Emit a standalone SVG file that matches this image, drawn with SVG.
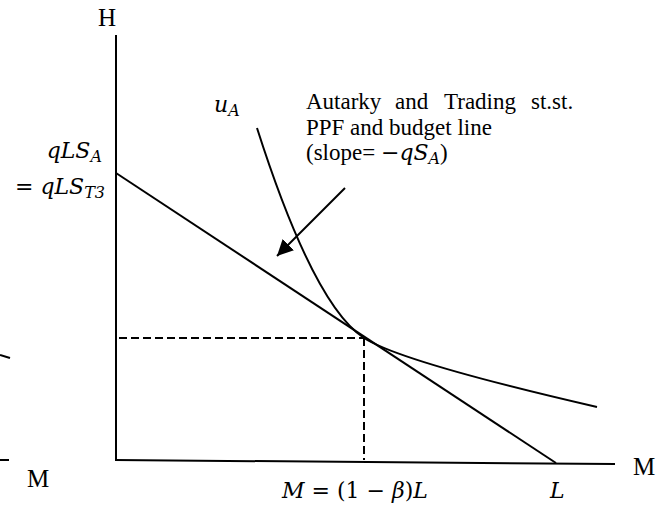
<svg xmlns="http://www.w3.org/2000/svg" width="664" height="516" viewBox="0 0 664 516">
<style>
.ln{fill:none;stroke:#000;stroke-width:2;stroke-linecap:butt}
.ds{fill:none;stroke:#000;stroke-width:2;stroke-dasharray:8 4}
.t{font-family:"Liberation Serif","Times New Roman",serif;font-size:23px;fill:#000}
.ax{font-family:"Liberation Serif","Times New Roman",serif;font-size:25px;fill:#000}
.m{font-family:"DejaVu Serif","Liberation Serif",serif;font-style:italic;font-size:22px;fill:#000}
.mu{font-family:"DejaVu Serif","Liberation Serif",serif;font-size:22px;fill:#000}
.s{font-size:16px}
</style>
<defs>
<marker id="ah" markerWidth="8" markerHeight="8" refX="8" refY="4" orient="auto" markerUnits="strokeWidth">
<path d="M0,0 L8,4 L0,8 Z" fill="#000"/>
</marker>
</defs>
<rect width="664" height="516" fill="#fff"/>
<g id="connectors">
<line id="y-axis" class="ln" x1="116" y1="35" x2="116" y2="461"/>
<line id="x-axis" class="ln" x1="115" y1="460" x2="615" y2="464"/>
<line id="ppf" class="ln" x1="116" y1="173" x2="556" y2="463"/>
<path id="u-curve" class="ln" d="M257,128 C280,200 320,309 364,338 C395,358 497,384 597,407"/>
<line class="ds" x1="119" y1="338" x2="364" y2="338"/>
<line class="ds" x1="364" y1="338" x2="364" y2="460"/>
<line class="ln" x1="345" y1="188" x2="277" y2="256" marker-end="url(#ah)"/>
<line class="ln" x1="0" y1="355" x2="10" y2="358"/>
<line class="ln" x1="0" y1="460" x2="9" y2="460"/>
</g>
<g id="label-H"><text class="ax" x="107" y="26" text-anchor="middle">H</text></g>
<g id="label-M-right"><text class="ax" x="633" y="475">M</text></g>
<g id="label-M-left"><text class="ax" x="27" y="487">M</text></g>
<g id="label-qLSA">
<text class="m" x="102" y="158" text-anchor="end">qLS<tspan class="s" dy="4">A</tspan></text>
<text x="105" y="194" text-anchor="end"><tspan class="mu">= </tspan><tspan class="m">qLS</tspan><tspan class="m s" dy="4">T3</tspan></text>
</g>
<g id="label-uA"><text class="m" x="214" y="112">u<tspan class="s" dy="4">A</tspan></text></g>
<g id="annotation">
<text class="t" y="109"><tspan x="306">Autarky</tspan><tspan x="395">and</tspan><tspan x="444">Trading</tspan><tspan x="531">st.st.</tspan></text>
<text class="t" x="306" y="135">PPF and budget line</text>
<text x="306" y="160"><tspan class="t">(slope= </tspan><tspan class="mu">−</tspan><tspan class="m">qS</tspan><tspan class="m s" dy="4">A</tspan><tspan class="t" dy="-4">)</tspan></text>
</g>
<g id="label-Mval"><text x="282" y="498"><tspan class="m">M</tspan><tspan class="mu"> = (1 − </tspan><tspan class="m">β</tspan><tspan class="mu">)</tspan><tspan class="m">L</tspan></text></g>
<g id="label-L"><text class="m" x="550" y="498">L</text></g>
</svg>
